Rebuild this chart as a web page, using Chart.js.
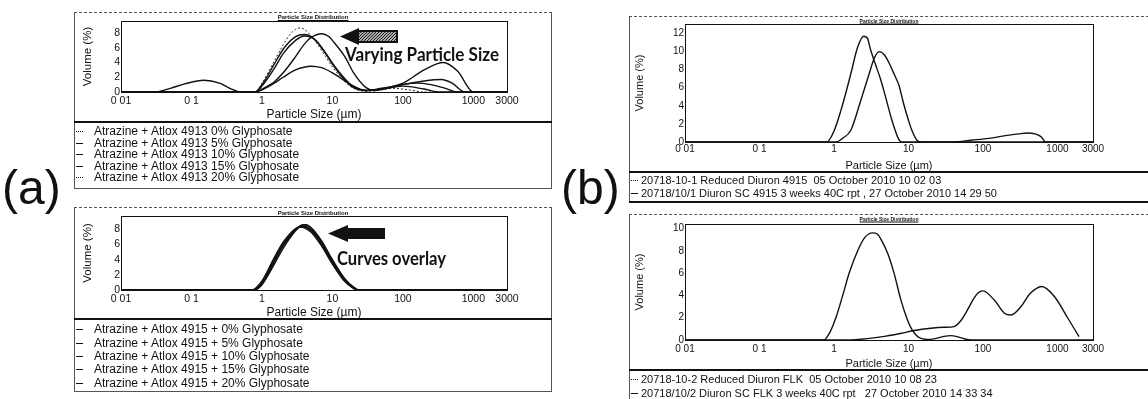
<!DOCTYPE html>
<html>
<head>
<meta charset="utf-8">
<script src="https://cdn.jsdelivr.net/npm/chart.js@4.4.1/dist/chart.umd.min.js"></script>
<style>
  html, body { margin: 0; padding: 0; background: #fff; }
  body { width: 1148px; height: 399px; position: relative; overflow: hidden; font-family: "Liberation Sans", Arial, sans-serif; color: #111; }
  canvas { position: absolute; }
  .box { position: absolute; box-sizing: border-box; border: 1px solid #555; }
  .sep { position: absolute; height: 0; border-top: 2px solid #111; }
  .ttl { position: absolute; font-weight: bold; text-decoration: underline; white-space: nowrap; transform: translate(-50%, -50%); line-height: 1; }
  .leg { position: absolute; white-space: pre; transform: translateY(-50%); line-height: 1; }
  .mark { position: absolute; height: 0; width: 7px; border-top: 1px solid #111; }
  svg { position: absolute; left: 0; top: 0; }
</style>
</head>
<body>

<div class="box" style="left:74px;top:12px;width:478px;height:177px;border-top-style:dashed"></div>
<div class="sep" style="left:74px;top:121px;width:478px"></div>
<canvas id="a1" width="477" height="110" style="left:74px;top:12px"></canvas>
<div class="ttl" style="left:313px;top:17px;font-size:6px">Particle Size Distribution</div>

<div class="box" style="left:74px;top:207px;width:478px;height:185px;border-top-style:dashed"></div>
<div class="sep" style="left:74px;top:318px;width:478px"></div>
<canvas id="a2" width="477" height="112" style="left:74px;top:207px"></canvas>
<div class="ttl" style="left:313px;top:213px;font-size:6px">Particle Size Distribution</div>

<div class="box" style="left:629px;top:16px;width:520px;height:186px;border-top-style:dashed;border-right:none"></div>
<div class="sep" style="left:629px;top:171px;width:519px"></div>
<div class="sep" style="left:629px;top:201px;width:519px"></div>
<canvas id="b1" width="518" height="156" style="left:629px;top:16px"></canvas>
<div class="ttl" style="left:889px;top:21px;font-size:5px">Particle Size Distribution</div>

<div class="box" style="left:629px;top:214px;width:520px;height:190px;border-top-style:dashed;border-right:none"></div>
<div class="sep" style="left:629px;top:369px;width:519px"></div>
<canvas id="b2" width="518" height="156" style="left:629px;top:214px"></canvas>
<div class="ttl" style="left:889px;top:219px;font-size:5px">Particle Size Distribution</div>

<svg width="1148" height="399">
  <defs>
    <pattern id="hatch" width="3" height="3" patternUnits="userSpaceOnUse">
      <rect width="3" height="3" fill="#aaa"/>
      <path d="M0 3L3 0" stroke="#222" stroke-width="1"/>
    </pattern>
  </defs>
  <path d="M340 36.5 L359 28 L359 45 Z" fill="#111"/>
  <rect x="358" y="31" width="39" height="11" fill="url(#hatch)" stroke="#111" stroke-width="2"/>
  <text x="345" y="61" textLength="154" lengthAdjust="spacingAndGlyphs" font-family="Lato, 'Open Sans', sans-serif" font-weight="700" font-size="19" fill="#111">Varying Particle Size</text>
  <path d="M328 233.5 L348 225 L348 228 L385 228 L385 239 L348 239 L348 242 Z" fill="#111"/>
  <text x="337" y="265" textLength="109" lengthAdjust="spacingAndGlyphs" font-family="Lato, 'Open Sans', sans-serif" font-weight="700" font-size="19" fill="#111">Curves overlay</text>
  <text x="2" y="204" font-family="'Liberation Sans', Arial, sans-serif" font-size="48" fill="#111">(a)</text>
  <text x="561" y="204" font-family="'Liberation Sans', Arial, sans-serif" font-size="48" fill="#111">(b)</text>
</svg>

<script>
const FONT = '"Liberation Sans", Arial, sans-serif';

// shared log axis
const X_TICKS = [0.01, 0.1, 1, 10, 100, 1000, 3000];
const X_TICK_LABELS = ['0 01', '0 1', '1', '10', '100', '1000', '3000'];
const A_Y_TICKS = [0, 2, 4, 6, 8];
const B1_Y_TICKS = [0, 2, 4, 6, 8, 10, 12];
const B2_Y_TICKS = [0, 2, 4, 6, 8, 10];

// (a) top - Atlox 4913
const A1_LABELS = [
  'Atrazine + Atlox 4913 0% Glyphosate',
  'Atrazine + Atlox 4913 5% Glyphosate',
  'Atrazine + Atlox 4913 10% Glyphosate',
  'Atrazine + Atlox 4913 15% Glyphosate',
  'Atrazine + Atlox 4913 20% Glyphosate'
];
const A1_X0  = [0.01, 0.8, 1, 1.5, 2, 2.5, 3, 3.5, 4, 5, 6, 8, 10, 15, 20, 30, 50, 70, 120, 200, 3000];
const A1_Y0  = [0, 0, 1.2, 4.2, 6.4, 7.8, 8.5, 8.7, 8.5, 7.6, 6.6, 4.8, 3.4, 1.4, 0.5, 0.1, 0.3, 0.5, 0.3, 0, 0];
const A1_X5  = [0.01, 0.8, 1, 1.5, 2, 3, 4, 5, 6, 8, 10, 15, 20, 30, 50, 100, 200, 330, 3000];
const A1_Y5  = [0, 0, 1.0, 3.8, 5.8, 7.5, 7.8, 7.5, 6.8, 5.2, 3.8, 1.6, 0.6, 0.2, 0.4, 0.8, 0.4, 0, 0];
const A1_X10 = [0.01, 0.8, 1, 1.5, 2, 3, 4, 5, 6, 8, 10, 15, 20, 30, 50, 100, 150, 250, 400, 580, 3000];
const A1_Y10 = [0, 0, 0.8, 3.2, 5.2, 7.0, 7.6, 7.4, 6.9, 5.3, 3.9, 1.8, 0.7, 0.2, 0.5, 1.0, 1.2, 1.0, 0.5, 0, 0];
const A1_X15 = [0.01, 0.8, 1, 1.5, 2, 3, 4, 5, 7, 9, 10, 15, 20, 30, 40, 60, 100, 200, 350, 500, 760, 3000];
const A1_Y15 = [0, 0, 0.4, 1.4, 2.6, 4.8, 6.5, 7.4, 7.9, 7.5, 7.0, 4.8, 2.6, 0.6, 0.2, 0.5, 1.0, 1.5, 1.7, 1.2, 0, 0];
const A1_X20 = [0.01, 0.03, 0.05, 0.08, 0.15, 0.25, 0.35, 0.5, 0.8, 1, 1.5, 2, 3, 5, 7, 10, 15, 20, 30, 50, 100, 200, 375, 600, 1000, 3000];
const A1_Y20 = [0, 0, 0.5, 1.1, 1.6, 1.2, 0.5, 0, 0, 0.3, 1.2, 2.0, 3.0, 3.5, 3.3, 2.6, 1.5, 0.8, 0.2, 0.4, 1.2, 3.0, 4.0, 2.8, 0, 0];

// (a) bottom - Atlox 4915
const A2_LABELS = [
  'Atrazine + Atlox 4915 + 0% Glyphosate',
  'Atrazine + Atlox 4915 + 5% Glyphosate',
  'Atrazine + Atlox 4915 + 10% Glyphosate',
  'Atrazine + Atlox 4915 + 15% Glyphosate',
  'Atrazine + Atlox 4915 + 20% Glyphosate'
];
const A2_X0  = [0.01, 0.75, 1, 1.5, 2, 3, 3.5, 4, 5, 7, 10, 15, 20, 22, 3000];
const A2_Y0  = [0, 0, 1.0, 4.0, 6.0, 8.0, 8.4, 8.4, 7.8, 6.0, 3.6, 1.2, 0.2, 0, 0];
const A2_X5  = [0.01, 0.78, 1, 1.5, 2, 3, 3.5, 4, 5, 7, 10, 15, 20, 23, 3000];
const A2_Y5  = [0, 0, 0.8, 3.7, 5.8, 7.9, 8.5, 8.6, 8.1, 6.3, 3.8, 1.3, 0.3, 0, 0];
const A2_X10 = [0.01, 0.8, 1, 1.5, 2, 3, 3.7, 4.2, 5, 7, 10, 15, 20, 24, 3000];
const A2_Y10 = [0, 0, 0.7, 3.4, 5.5, 7.8, 8.5, 8.6, 8.2, 6.5, 4.0, 1.5, 0.4, 0, 0];
const A2_X15 = [0.01, 0.72, 1, 1.5, 2, 3, 3.5, 4, 5, 7, 10, 15, 20, 22, 3000];
const A2_Y15 = [0, 0, 1.2, 4.3, 6.3, 8.1, 8.3, 8.2, 7.6, 5.8, 3.4, 1.1, 0.2, 0, 0];
const A2_X20 = [0.01, 0.76, 1, 1.5, 2, 3, 3.6, 4, 5, 7, 10, 15, 20, 23, 3000];
const A2_Y20 = [0, 0, 0.9, 3.9, 6.0, 8.0, 8.3, 8.3, 7.9, 6.2, 3.7, 1.3, 0.3, 0, 0];

// (b) top - Diuron 4915
const B1_LABELS = [
  '20718-10-1 Reduced Diuron 4915  05 October 2010 10 02 03',
  '20718/10/1 Diuron SC 4915 3 weeks 40C rpt , 27 October 2010 14 29 50'
];
const B1_X1 = [0.01, 0.8, 1.0, 1.24, 1.45, 1.69, 2.08, 2.5, 2.8, 3.1, 3.6, 4.2, 4.7, 5.3, 5.9, 6.5, 7.3, 8, 3000];
const B1_Y1 = [0, 0, 1.2, 3.5, 5.5, 7.6, 10.5, 11.7, 11.5, 10.2, 8.6, 7.0, 5.6, 4.0, 2.6, 1.5, 0.4, 0, 0];
const B1_X2 = [0.01, 1.06, 1.3, 1.69, 2.3, 2.98, 3.47, 4.06, 4.8, 5.6, 6.5, 7.5, 8.5, 10, 11.1, 13, 15, 40, 70, 120, 200, 300, 400, 500, 600, 700, 3000];
const B1_Y2 = [0, 0, 0.4, 1.33, 4.65, 7.6, 9.27, 10.0, 9.6, 8.6, 7.4, 6.2, 4.4, 2.4, 1.3, 0.2, 0, 0, 0.2, 0.4, 0.7, 0.9, 1.0, 0.9, 0.6, 0, 0];

// (b) bottom - Diuron FLK
const B2_LABELS = [
  '20718-10-2 Reduced Diuron FLK  05 October 2010 10 08 23',
  '20718/10/2 Diuron SC FLK 3 weeks 40C rpt   27 October 2010 14 33 34'
];
const B2_X1 = [0.01, 0.73, 0.85, 1.06, 1.31, 1.6, 2.08, 2.6, 3.3, 3.8, 4.3, 5.3, 6.4, 7.9, 9.7, 11, 13.3, 18, 22, 30, 37, 45, 55, 69, 3000];
const B2_Y1 = [0, 0, 0.5, 2, 4, 6, 8, 9.2, 9.6, 9.5, 9.0, 7.7, 6.0, 3.6, 1.8, 1.0, 0.3, 0.05, 0.1, 0.32, 0.39, 0.3, 0.12, 0, 0];
const B2_X2 = [0.01, 1.5, 3, 5, 8, 12, 20, 30, 41, 50, 62, 75, 85, 100, 141, 194, 238, 324, 420, 489, 615, 910, 1380, 1950];
const B2_Y2 = [0, 0, 0.15, 0.35, 0.6, 0.85, 1.05, 1.14, 1.2, 1.7, 2.7, 3.7, 4.2, 4.4, 3.6, 2.4, 2.24, 3.0, 4.1, 4.5, 4.8, 3.9, 1.95, 0.3];

// plot frame (all four sides of the chart area)
const frame = {
  id: 'frame',
  afterDraw(chart) {
    const { ctx, chartArea: a } = chart;
    ctx.save();
    ctx.strokeStyle = '#111';
    ctx.lineWidth = 1;
    ctx.strokeRect(Math.round(a.left) + 0.5, Math.round(a.top) + 0.5, Math.round(a.width), Math.round(a.height));
    ctx.restore();
  }
};

function series(xs, ys, label, dash, width) {
  return {
    label,
    data: xs.map((x, i) => ({ x, y: ys[i] })),
    borderColor: '#111',
    borderWidth: width || 1.4,
    borderDash: dash || [],
    pointRadius: 0,
    fill: false,
    cubicInterpolationMode: 'monotone'
  };
}

function makeChart(id, datasets, yMax, yTicks, g) {
  new Chart(document.getElementById(id), {
    type: 'line',
    data: { datasets },
    options: {
      responsive: false,
      animation: false,
      devicePixelRatio: 1,
      layout: { padding: { left: 0, right: g.right, top: g.top, bottom: 0 } },
      plugins: { legend: { display: false }, tooltip: { enabled: false }, title: { display: false } },
      scales: {
        x: {
          type: 'logarithmic', min: 0.01, max: 3000,
          grid: { display: false, drawTicks: false }, border: { display: false },
          afterBuildTicks: s => { s.ticks = X_TICKS.map(v => ({ value: v })); },
          afterFit: s => { s.height = g.xh; },
          ticks: { autoSkip: false, maxRotation: 0, padding: g.tp, color: '#111', font: { family: FONT, size: g.tick }, callback: (v, i) => X_TICK_LABELS[i] },
          title: { display: true, text: 'Particle Size (µm)', color: '#111', font: { family: FONT, size: g.xt }, padding: { top: 0, bottom: g.tb } }
        },
        y: {
          min: 0, max: yMax,
          grid: { display: false, drawTicks: false }, border: { display: false },
          afterBuildTicks: s => { s.ticks = yTicks.map(v => ({ value: v })); },
          afterFit: s => { s.width = g.yw; },
          ticks: { padding: 1, color: '#111', font: { family: FONT, size: g.tick } },
          title: { display: true, text: 'Volume (%)', color: '#111', font: { family: FONT, size: g.yt }, padding: { top: g.ytp, bottom: 0 } }
        }
      }
    },
    plugins: [frame]
  });
}

function legend(labels, dashes, textLeft, markLeft, firstY, step, size) {
  labels.forEach((t, i) => {
    const y = firstY + i * step;
    const m = document.createElement('div');
    m.className = 'mark';
    m.style.left = markLeft + 'px';
    m.style.top = Math.round(y) + 'px';
    if (dashes[i]) m.style.borderTopStyle = 'dotted';
    document.body.appendChild(m);
    const d = document.createElement('div');
    d.className = 'leg';
    d.style.left = textLeft + 'px';
    d.style.top = y + 'px';
    d.style.fontSize = size + 'px';
    d.textContent = t;
    document.body.appendChild(d);
  });
}

const A1_DASH = [true, false, false, false, true];
const A2_DASH = [false, false, false, false, false];
const B_DASH = [true, false];

makeChart('a1', [
  series(A1_X0, A1_Y0, A1_LABELS[0], [2, 2], 0.9),
  series(A1_X5, A1_Y5, A1_LABELS[1]),
  series(A1_X10, A1_Y10, A1_LABELS[2]),
  series(A1_X15, A1_Y15, A1_LABELS[3]),
  series(A1_X20, A1_Y20, A1_LABELS[4])
], 9.63, A_Y_TICKS, { right: 44, top: 9, xh: 30, yw: 47, tp: 2.5, tb: 0, tick: 10.5, xt: 12, yt: 11.5, ytp: 7.4 });

makeChart('a2', [
  series(A2_X0, A2_Y0, A2_LABELS[0]),
  series(A2_X5, A2_Y5, A2_LABELS[1]),
  series(A2_X10, A2_Y10, A2_LABELS[2]),
  series(A2_X15, A2_Y15, A2_LABELS[3]),
  series(A2_X20, A2_Y20, A2_LABELS[4])
], 9.75, A_Y_TICKS, { right: 44, top: 9, xh: 29, yw: 47, tp: 2.5, tb: -1, tick: 10.5, xt: 12, yt: 11.5, ytp: 7.4 });

makeChart('b1', [
  series(B1_X1, B1_Y1, B1_LABELS[0]),
  series(B1_X2, B1_Y2, B1_LABELS[1])
], 13.05, B1_Y_TICKS, { right: 54, top: 8, xh: 30, yw: 56, tp: 1.5, tb: -1, tick: 10, xt: 11, yt: 11, ytp: 4.4 });

makeChart('b2', [
  series(B2_X1, B2_Y1, B2_LABELS[0]),
  series(B2_X2, B2_Y2, B2_LABELS[1])
], 10.4, B2_Y_TICKS, { right: 54, top: 10, xh: 30, yw: 56, tp: 3.5, tb: -1, tick: 10, xt: 11, yt: 11, ytp: 4.4 });

legend(A1_LABELS, A1_DASH, 94, 76, 131, 11.5, 12);
legend(A2_LABELS, A2_DASH, 94, 76, 329.3, 13.3, 12);
legend(B1_LABELS, B_DASH, 641, 631, 180, 13, 11);
legend(B2_LABELS, B_DASH, 641, 631, 379.3, 14, 11);
</script>
</body>
</html>
